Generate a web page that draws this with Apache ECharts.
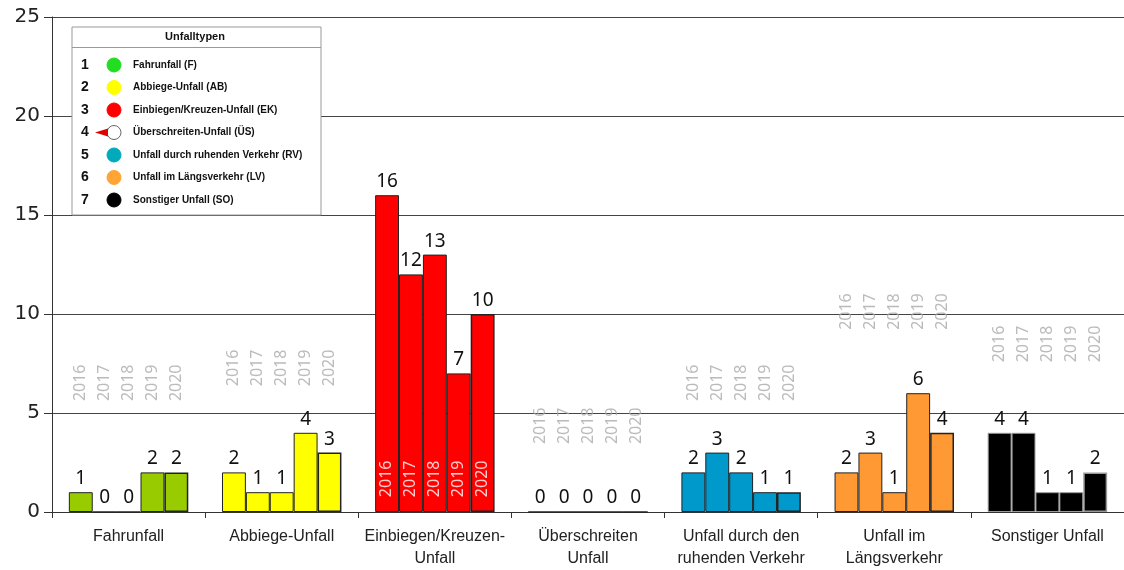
<!DOCTYPE html>
<html><head><meta charset="utf-8">
<script src="https://cdn.jsdelivr.net/npm/echarts@6/dist/echarts.min.js"></script>
<style>html,body{margin:0;padding:0;background:#fff}#c{width:1124px;height:570px}</style>
</head><body><div id="c"></div>
<script>
const categories = ['Fahrunfall','Abbiege-Unfall','Einbiegen/Kreuzen-\nUnfall','Überschreiten\nUnfall','Unfall durch den\nruhenden Verkehr','Unfall im\nLängsverkehr','Sonstiger Unfall'];
const years = ['2016','2017','2018','2019','2020'];
const v2016 = [1,2,16,0,2,2,4];
const v2017 = [0,1,12,0,3,3,4];
const v2018 = [0,1,13,0,2,1,1];
const v2019 = [2,4,7,0,1,6,1];
const v2020 = [2,3,10,0,1,4,2];
const yTicks = [0,5,10,15,20,25];
const legendItems = ['Fahrunfall (F)','Abbiege-Unfall (AB)','Einbiegen/Kreuzen-Unfall (EK)','Überschreiten-Unfall (ÜS)','Unfall durch ruhenden Verkehr (RV)','Unfall im Längsverkehr (LV)','Sonstiger Unfall (SO)'];

// layout / style (not data)
const yearLabelAnchor = [5.6, 6.35, 0.75, 3.43, 5.6, 9.2, 7.56];
const barColors = ['#99cc00','#ffff00','#ff0000','#ffffff','#0099cc','#ff9933','#000000'];
const legendColors = ['#22dd22','#ffff00','#ff0000','#ffffff','#00aabb','#ffa535','#000000'];
const values = [v2016,v2017,v2018,v2019,v2020];

const chart = echarts.init(document.getElementById('c'));
const numFont = '"Noto Sans", sans-serif';
const series = [];
values.forEach((arr, i) => {
  series.push({
    type: 'bar', name: years[i],
    barGap: '0%', barCategoryGap: '22%',
    data: arr.map((v, c) => ({
      value: v,
      itemStyle: { color: barColors[c], borderColor: c === 6 ? '#999' : '#222', borderWidth: i === 4 ? 1.5 : 1 }
    })),
    label: { show: true, position: 'top', distance: 4, color: '#111', fontSize: 19, fontFamily: numFont },
    z: 2
  });
});
values.forEach((arr, i) => {
  series.push({
    type: 'scatter', name: 'y' + years[i],
    symbolSize: 1, itemStyle: { color: 'transparent' },
    silent: true, z: 5,
    data: yearLabelAnchor.map((a, c) => ({
      value: a,
      label: { color: c === 2 ? '#ffffff' : '#aaaaaa' }
    })),
    label: {
      show: true, formatter: years[i], position: 'inside', rotate: 90,
      align: 'left', verticalAlign: 'middle', offset: [0, (i - 2) * 24],
      fontSize: 16, fontFamily: numFont, color: '#aaa'
    }
  });
});

const graphics = [];
graphics.push({ type: 'rect', shape: { x: 72, y: 27, width: 249, height: 188 }, style: { fill: '#fff', stroke: '#999', lineWidth: 1 }, z: 100 });
graphics.push({ type: 'line', shape: { x1: 72, y1: 47.5, x2: 321, y2: 47.5 }, style: { stroke: '#999', lineWidth: 1 }, z: 101 });
graphics.push({ type: 'text', x: 195, y: 37, style: { text: 'Unfalltypen', font: 'bold 11px "Liberation Sans", Arial', fill: '#111', align: 'center', verticalAlign: 'middle' }, z: 101 });
legendItems.forEach((t, k) => {
  const y = 65 + k * 22.5;
  graphics.push({ type: 'text', x: 85, y: y, style: { text: String(k + 1), font: 'bold 14px "Liberation Sans", Arial', fill: '#111', align: 'center', verticalAlign: 'middle' }, z: 101 });
  graphics.push({ type: 'circle', shape: { cx: 114, cy: y, r: 7 }, style: { fill: legendColors[k], stroke: k === 3 ? '#666' : legendColors[k], lineWidth: 1 }, z: 101 });
  graphics.push({ type: 'text', x: 133, y: y, style: { text: t, font: 'bold 10px "Liberation Sans", Arial', fill: '#111', align: 'left', verticalAlign: 'middle' }, z: 101 });
  if (k === 3) {
    graphics.push({ type: 'polygon', shape: { points: [[95, y], [108, y - 4], [108, y + 4]] }, style: { fill: '#e00000' }, z: 102 });
  }
});

chart.setOption({
  animation: false,
  backgroundColor: '#fff',
  grid: { left: 52, top: 17, width: 1077, height: 496 },
  xAxis: {
    type: 'category', data: categories,
    axisLine: { lineStyle: { color: '#333', width: 1 } },
    axisTick: { show: true, length: 6, lineStyle: { color: '#333' } },
    axisLabel: { color: '#222', fontSize: 16, fontFamily: '"Liberation Sans", Arial', lineHeight: 22, verticalAlign: 'top', margin: 14, interval: 0 }
  },
  yAxis: {
    type: 'value', min: yTicks[0], max: yTicks[yTicks.length - 1], interval: 5,
    axisLine: { show: true, lineStyle: { color: '#333' } },
    axisTick: { show: true, length: 8, lineStyle: { color: '#333' } },
    splitLine: { lineStyle: { color: '#444', width: 1 } },
    axisLabel: { color: '#222', fontSize: 20, fontFamily: '"DejaVu Sans", sans-serif', margin: 12 }
  },
  graphic: graphics,
  series: series
});
</script></body></html>
